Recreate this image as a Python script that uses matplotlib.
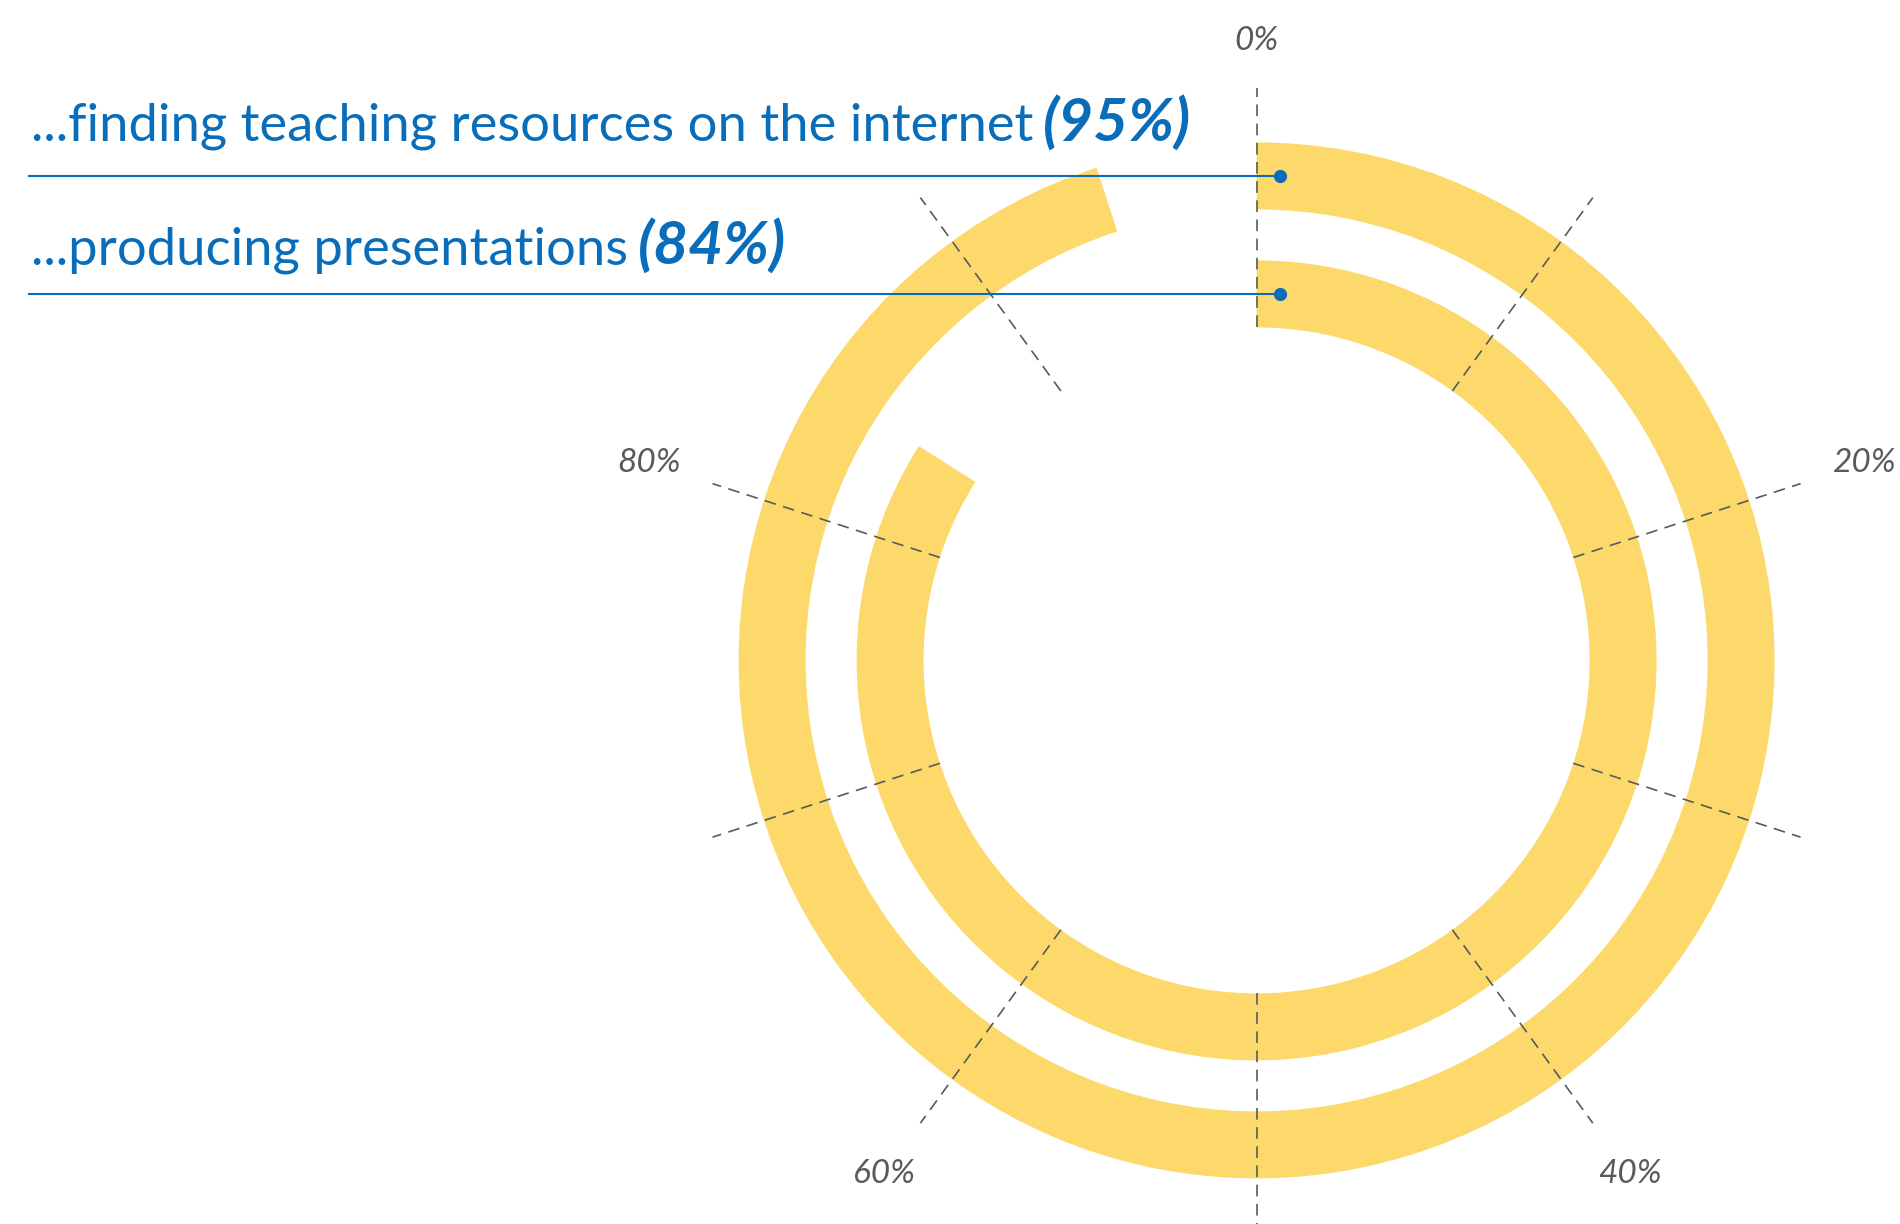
import matplotlib
matplotlib.use('Agg')
import numpy as np
import matplotlib.pyplot as plt
from matplotlib.patches import Wedge

# share of teachers using digital tools for each activity
activities = ['...finding teaching resources on the internet', '...producing presentations']
shares = [95, 84]
tick_values = [0, 20, 40, 60, 80]

YELLOW = '#fdd96b'
BLUE = '#0a6dba'
GREY = '#575b5f'

center = (1256.6, 660.4)
rings = [(451, 518), (333, 400)]          # inner / outer radius of each ring
label_baselines = [141, 264]

fig = plt.figure(figsize=(19, 12.24), dpi=100)
ax = fig.add_axes([0, 0, 1, 1])
ax.set_xlim(0, 1900)
ax.set_ylim(1224, 0)
ax.axis('off')
renderer = fig.canvas.get_renderer()

cx, cy = center


def polar(frac, r):
    a = 2 * np.pi * frac
    return cx + r * np.sin(a), cy - r * np.cos(a)


# rings, clockwise from the top
for share, (r_in, r_out) in zip(shares, rings):
    ax.add_patch(Wedge(center, r_out, -90, -90 + 360 * share / 100, width=r_out - r_in,
                       facecolor=YELLOW, edgecolor='none', zorder=1))

# dashed spokes every 10%
for k in range(10):
    x0, y0 = polar(k / 10, 333)
    x1, y1 = polar(k / 10, 572)
    ax.plot([x0, x1], [y0, y1], color=GREY, lw=1.2, linestyle=(0, (7, 4.5)), zorder=2)

# tick labels, nearest edge of each label sits on the same circle
for v in tick_values:
    t = ax.text(0, 0, f'{v}%', ha='center', va='center', fontsize=24, color=GREY,
                family='Lato', style='italic')
    bb = t.get_window_extent(renderer)
    a = 2 * np.pi * v / 100
    r = 604 + bb.width / 2 * abs(np.sin(a)) + bb.height / 2 * abs(np.cos(a))
    t.set_position(polar(v / 100, r))

# activity labels with leader lines
for label, share, (r_in, r_out), base in zip(activities, shares, rings, label_baselines):
    t = ax.text(31, base, label, fontsize=37.8, color=BLUE, family='Lato', va='baseline')
    bb = t.get_window_extent(renderer)
    ax.text(bb.x1 + 10, base, f'({share}%)', fontsize=43.5, color=BLUE, family='Lato',
            style='italic', weight='bold', va='baseline')
    y_line = cy - (r_in + r_out) / 2
    ax.plot([29, cx + 23], [y_line, y_line], color=BLUE, lw=1.5, zorder=3)
    ax.plot([cx + 23], [y_line], 'o', color=BLUE, markersize=8.5, zorder=4)

fig.savefig('out.png', dpi=100, facecolor='white')
